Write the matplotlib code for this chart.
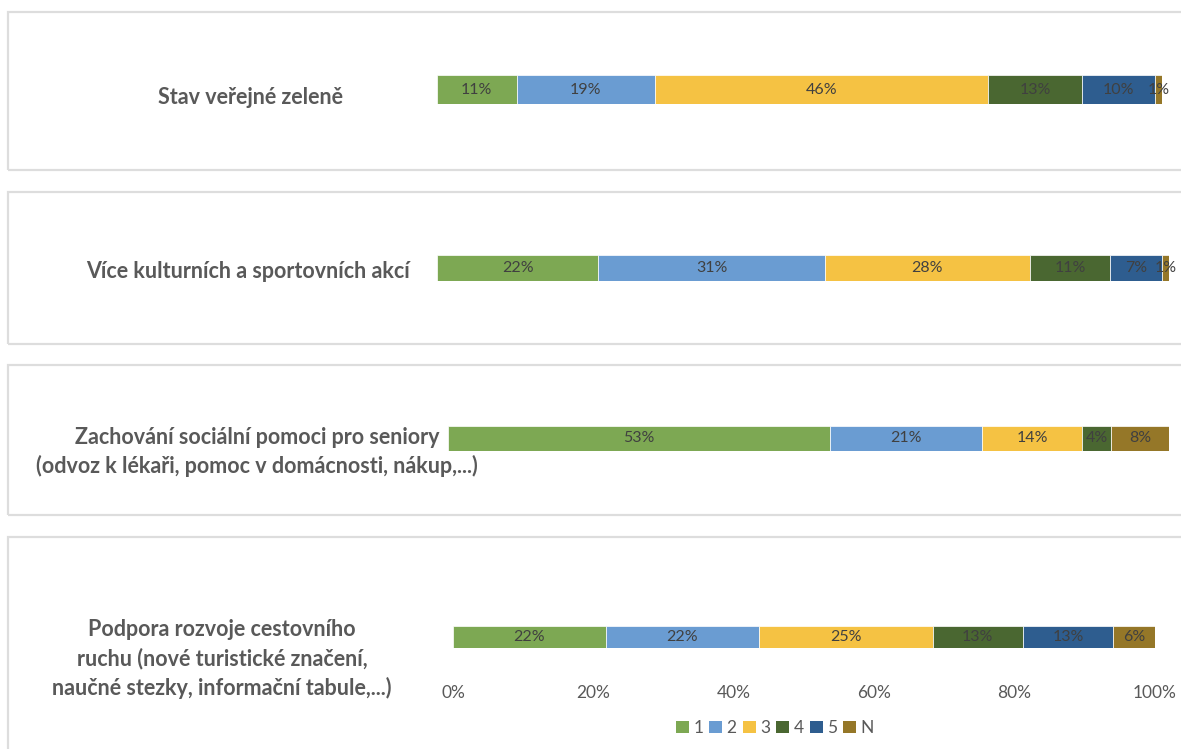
import matplotlib
matplotlib.use("Agg")
import matplotlib.pyplot as plt
from matplotlib.patches import Rectangle, Patch

plt.rcParams['font.family'] = ['Lato', 'DejaVu Sans']

categories = [
    "Stav veřejné zeleně",
    "Více kulturních a sportovních akcí",
    "Zachování sociální pomoci pro seniory\n(odvoz k lékaři, pomoc v domácnosti, nákup,...)",
    "Podpora rozvoje cestovního\nruchu (nové turistické značení,\nnaučné stezky, informační tabule,...)",
]
series_names = ["1", "2", "3", "4", "5", "N"]
s1 = [11, 22, 53, 22]
s2 = [19, 31, 21, 22]
s3 = [46, 28, 14, 25]
s4 = [13, 11, 4, 13]
s5 = [10, 7, 0, 13]
sN = [1, 1, 8, 6]
series = [s1, s2, s3, s4, s5, sN]
colors = ["#7DA853", "#6A9CD2", "#F5C243", "#4A6731", "#2E5D8F", "#957728"]
xticks = [0, 20, 40, 60, 80, 100]

W, H = 1181, 749
fig = plt.figure(figsize=(W / 100, H / 100), dpi=100)

def fx(px):
    return px / W

def fy(py):
    return 1 - py / H

# panel layout in pixels: box top, box bottom, bar x0, bar x1, bar top, bar bottom, label center y, label center x
panels = [
    (12, 170, 437, 1162, 75, 104, 97, 251),
    (192, 344, 437, 1169, 255, 281, 271, 248),
    (365, 515, 448, 1169, 426, 451, 452, 257),
    (537, 800, 453, 1155, 626, 648, 659, 222),
]

txtc = "#595959"
for i, (bt, bb, x0, x1, yt, yb, ly, lx) in enumerate(panels):
    fig.add_artist(Rectangle((fx(8), fy(bb)), fx(1250) - fx(8), (bb - bt) / H,
                             transform=fig.transFigure, fill=False,
                             edgecolor="#DDDDDD", lw=1.6))
    ax = fig.add_axes([fx(x0), fy(yb), (x1 - x0) / W, (yb - yt) / H])
    vals = [s[i] for s in series]
    tot = sum(vals)
    left = 0
    for v, c in zip(vals, colors):
        w = v / tot * 100
        if v > 0:
            ax.barh(0, w, left=left, height=1, color=c, edgecolor="white", lw=0.5)
            ax.text(left + w / 2, 0, f"{v}%", ha="center", va="center",
                    fontsize=11.5, color="#404040")
        left += w
    ax.set_xlim(0, 100)
    ax.set_ylim(-0.5, 0.5)
    for sp in ax.spines.values():
        sp.set_visible(False)
    ax.set_yticks([])
    if i == 3:
        ax.set_xticks(xticks)
        ax.set_xticklabels([f"{t}%" for t in xticks], fontsize=12.5, color=txtc)
        ax.tick_params(axis="x", length=0, pad=27)
    else:
        ax.set_xticks([])
    fig.text(fx(lx), fy(ly), categories[i], ha="center", va="center",
             fontsize=15.5, fontweight="bold", color=txtc, linespacing=1.4)

handles = [Patch(facecolor=c, label=n) for c, n in zip(colors, series_names)]
fig.legend(handles=handles, loc="center", bbox_to_anchor=(fx(775), fy(728)),
           ncol=6, frameon=False, handlelength=0.75, handleheight=0.75,
           columnspacing=0.35, handletextpad=0.25, fontsize=12.5, labelcolor=txtc)

fig.savefig("out.png", dpi=100, facecolor="white")
